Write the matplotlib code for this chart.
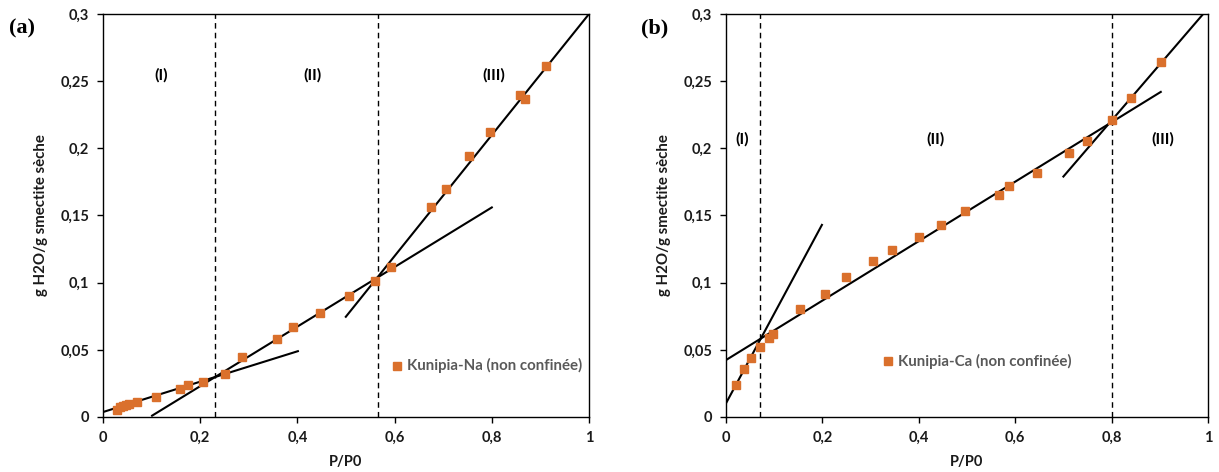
import matplotlib
matplotlib.use("Agg")
import matplotlib.pyplot as plt
import numpy as np

plt.rcParams['font.family'] = ['Lato', 'DejaVu Sans']

# data
# (a) Kunipia-Na
na_x = [0.029, 0.036, 0.042, 0.047, 0.054, 0.070, 0.109, 0.158, 0.175, 0.206,
        0.251, 0.287, 0.358, 0.390, 0.446, 0.507, 0.560, 0.593, 0.675, 0.706,
        0.753, 0.797, 0.858, 0.868, 0.912]
na_y = [0.0052, 0.0072, 0.0080, 0.0087, 0.0095, 0.0112, 0.0151, 0.0208, 0.024, 0.026,
        0.032, 0.045, 0.058, 0.067, 0.0776, 0.090, 0.101, 0.112, 0.156, 0.170,
        0.194, 0.212, 0.240, 0.237, 0.261]
# fitted segments (x0, y0, x1, y1)
na_fits = [(0.0, 0.0037, 0.401, 0.049),
           (0.101, 0.001, 0.8, 0.156),
           (0.4996, 0.0746, 1.0, 0.300)]
na_bounds = [0.23, 0.565]
na_regions = [("(I)", 0.119), ("(II)", 0.431), ("(III)", 0.805)]

# (b) Kunipia-Ca
ca_x = [0.020, 0.037, 0.051, 0.071, 0.089, 0.098, 0.154, 0.205, 0.248, 0.305,
        0.345, 0.401, 0.446, 0.496, 0.566, 0.588, 0.645, 0.712, 0.748, 0.801,
        0.841, 0.903]
ca_y = [0.0238, 0.0357, 0.0437, 0.0519, 0.0586, 0.0615, 0.0805, 0.0917, 0.1043, 0.116,
        0.124, 0.1338, 0.1428, 0.1537, 0.1656, 0.172, 0.1814, 0.1963, 0.2054, 0.2213,
        0.2372, 0.2645]
ca_fits = [(0.0, 0.0102, 0.199, 0.143),
           (0.0, 0.0424, 0.902, 0.242),
           (0.700, 0.179, 0.99, 0.300)]
ca_bounds = [0.071, 0.80]
ca_regions = [("(I)", 0.033), ("(II)", 0.434), ("(III)", 0.907)]

orange = '#DA702C'

fig = plt.figure(figsize=(12.19, 4.72), dpi=100)
ax1 = fig.add_axes([103/1219, 1-417/472, 486/1219, 403/472])
ax2 = fig.add_axes([726/1219, 1-417/472, 482/1219, 403/472])


def fmt(v):
    s = ('%.2f' % v).rstrip('0').rstrip('.')
    return s.replace('.', ',')


def draw(ax, x, y, fits, bounds, regions, label_y, name, leg_pos):
    ax.plot(x, y, 's', color=orange, markersize=6, zorder=3)
    for x0, y0, x1, y1 in fits:
        ax.plot([x0, x1], [y0, y1], color='black', lw=1.5, zorder=2)
    for b in bounds:
        ax.axvline(b, color='black', lw=1.0, ls=(0, (4, 3)), zorder=1)
    for txt, xp in regions:
        ax.text(xp, label_y, txt, ha='center', va='center', fontsize=11.5,
                fontweight='bold', color='black')
    ax.set_xlim(0, 1)
    ax.set_ylim(0, 0.3)
    xt = np.arange(0, 1.01, 0.2)
    yt = np.arange(0, 0.301, 0.05)
    ax.set_xticks(xt)
    ax.set_yticks(yt)
    ax.set_xticklabels([fmt(v) for v in xt])
    ax.set_yticklabels([fmt(v) for v in yt])
    ax.tick_params(direction='out', length=4, width=1, labelsize=10.5,
                   labelcolor='#1a1a1a', pad=6)
    for lab in ax.get_xticklabels() + ax.get_yticklabels():
        lab.set_fontweight('bold')
    for sp in ax.spines.values():
        sp.set_linewidth(1.0)
        sp.set_color('black')
    ax.set_xlabel('P/P0', fontsize=10.5, fontweight='bold', color='#1a1a1a', labelpad=7)
    ax.set_ylabel('g H2O/g smectite sèche', fontsize=10.8, fontweight='bold',
                  color='#1a1a1a', labelpad=9)
    lx, ly = leg_pos
    ax.plot([lx], [ly], 's', color=orange, markersize=6, transform=ax.transAxes,
            clip_on=False)
    ax.text(lx + 0.02, ly, name, transform=ax.transAxes, ha='left', va='center',
            fontsize=10.8, fontweight='bold', color='#595959')


draw(ax1, na_x, na_y, na_fits, na_bounds, na_regions, 0.254,
     'Kunipia-Na (non confinée)', (0.605, 0.127))
draw(ax2, ca_x, ca_y, ca_fits, ca_bounds, ca_regions, 0.207,
     'Kunipia-Ca (non confinée)', (0.336, 0.139))

fig.text(22/1219, 1-28/472, '(a)', fontsize=16, fontweight='bold',
         family='Liberation Serif', ha='center', va='center')
fig.text(655/1219, 1-28/472, '(b)', fontsize=16, fontweight='bold',
         family='Liberation Serif', ha='center', va='center')

fig.savefig('out.png', dpi=100)
